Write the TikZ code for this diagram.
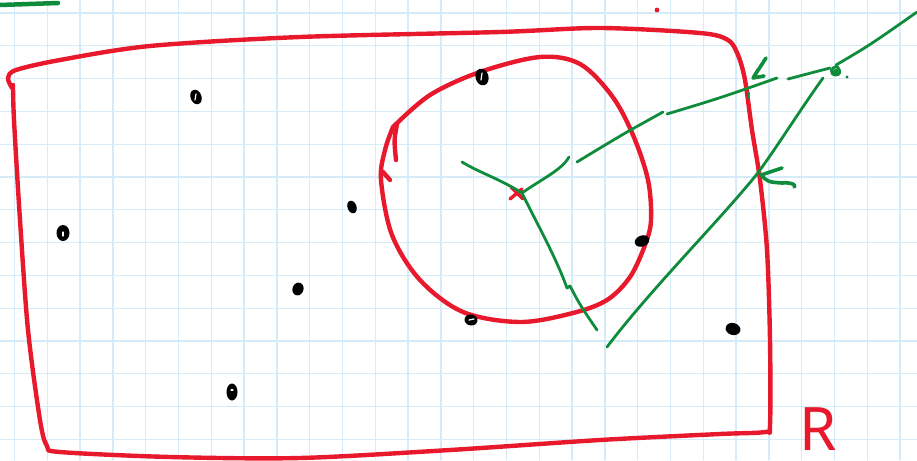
\documentclass[tikz,border=0pt]{standalone}
\usepackage{fontspec}
\setsansfont{Noto Sans}
\begin{document}
\begin{tikzpicture}[x=1pt,y=-1pt,line cap=round,line join=round,
  gridline/.style={draw=gridblue,line width=1.3pt},
  redpen/.style={draw=penred,line width=4.4pt},
  greenpen/.style={draw=pengreen,line width=2.8pt},
  inkblob/.style={fill=black},
  slit/.style={draw=white,line width=1.2pt}]
\definecolor{gridblue}{HTML}{D6EBF8}
\definecolor{penred}{HTML}{E8192C}
\definecolor{pengreen}{HTML}{0E8C3C}
\useasboundingbox (0,0) rectangle (917,460);
\fill[white] (0,0) rectangle (917,460);
% grid
\foreach \i in {0,...,27} \draw[gridline] (14.5+32.8*\i,0) -- (14.5+32.8*\i,460);
\foreach \j in {0,...,13} \draw[gridline] (0,13+32.8*\j) -- (917,13+32.8*\j);
% green stroke top-left
\draw[draw=pengreen,line width=4.5pt] (0,5) -- (58,3);
% red rectangle R
\draw[redpen] plot[smooth,tension=0.5] coordinates {(12,88) (8,78) (16,70) (60,60) (150,46) (300,37) (500,32) (600,28) (700,33) (728,40) (738,55) (745,80) (752,130) (760,180) (767,250) (770,340) (770,425) (765,432) (720,434) (600,440) (450,450) (300,458) (170,457) (60,452) (47,446) (40,420) (28,330) (20,220) (14,120) (13,85)};
% red circle
\draw[redpen] plot[smooth,tension=0.55] coordinates {(393,127) (430,95) (480,72) (540,57) (580,64) (612,96) (633,135) (648,180) (651,220) (645,245) (630,277) (607,300) (573,313) (520,322) (463,312) (420,280) (392,235) (381,180) (385,150) (393,127)};
\draw[redpen] (397,124) .. controls (394,140) .. (396,160);
\draw[redpen] (383,172) -- (390,180);
% red marks
\fill[penred] (657,10) circle (2.4);
\draw[draw=penred,line width=3.4pt] (511,187) -- (523,199);
\draw[draw=penred,line width=3.4pt] (510,199) -- (522,189);
% green star from centre
\coordinate (c) at (522,193);
\draw[greenpen] (462,162) .. controls (480,173) and (498,178) .. (c);
\draw[greenpen] (c) .. controls (540,180) and (562,170) .. (569,157);
\draw[greenpen] (c) .. controls (535,220) and (555,255) .. (567,288) -- (570,286) .. controls (580,305) .. (597,330);
% long line through circle
\draw[greenpen] (577,162) .. controls (600,148) .. (627,132) -- (663,112);
\draw[greenpen] (667,114) .. controls (720,98) .. (777,78);
\draw[greenpen] (788,79) -- (830,68);
\draw[greenpen] (836,65) .. controls (870,45) .. (917,12);
% point a
\draw[draw=pengreen,line width=2.8pt] (838,67) .. controls (830,66) and (829,75) .. (836,75) .. controls (840,75) and (841,71) .. (838,68);
\fill[pengreen] (836,72) circle (3.2);
\fill[pengreen] (847,77) circle (1.6);
% second line down-left
\draw[greenpen] (823,78) .. controls (800,110) and (775,150) .. (757,174) .. controls (720,220) and (650,290) .. (607,347);
% arrowheads
\draw[draw=pengreen,line width=3.6pt] (766,58) -- (753,78) -- (764,76);
\draw[draw=pengreen,line width=2.6pt] (753,78) -- (758,69);
\draw[draw=pengreen,line width=3.6pt] (782,168) -- (761,175) .. controls (768,182) .. (782,183) .. controls (793,182) and (797,186) .. (794,187);
\draw[draw=pengreen,line width=2pt] (749,93) -- (748,98);
% ink dots
\fill[inkblob,rotate around={20:(196,97)}] (196,97) ellipse (5.5 and 7.5);
\draw[slit] (196,94) -- (195,100);
\fill[inkblob] (63,233) ellipse (6.5 and 8);
\draw[slit] (63,232) -- (63,236);
\fill[inkblob,rotate around={20:(352,207)}] (352,207) ellipse (4.5 and 6.5);
\fill[inkblob,rotate around={-20:(298,289)}] (298,289) ellipse (5.5 and 6.5);
\fill[inkblob] (232,392) ellipse (5.5 and 8.5);
\draw[slit] (231,390) -- (233,390);
\fill[inkblob,rotate around={15:(482,77)}] (482,77) ellipse (6.5 and 8.5);
\draw[slit] (482,73) -- (481,80);
\fill[inkblob,rotate around={20:(642,241)}] (642,241) ellipse (7.5 and 5.5);
\fill[inkblob,rotate around={-10:(471,320)}] (471,320) ellipse (6.5 and 5.5);
\draw[slit] (469,320) -- (474,319);
\fill[inkblob,rotate around={-15:(733,329)}] (733,329) ellipse (7.5 and 6);
% label
\node[text=penred,font=\sffamily\fontsize{60}{60}\selectfont,inner sep=0pt,anchor=base west] (R) at (799,450) {R};
\end{tikzpicture}
\end{document}
